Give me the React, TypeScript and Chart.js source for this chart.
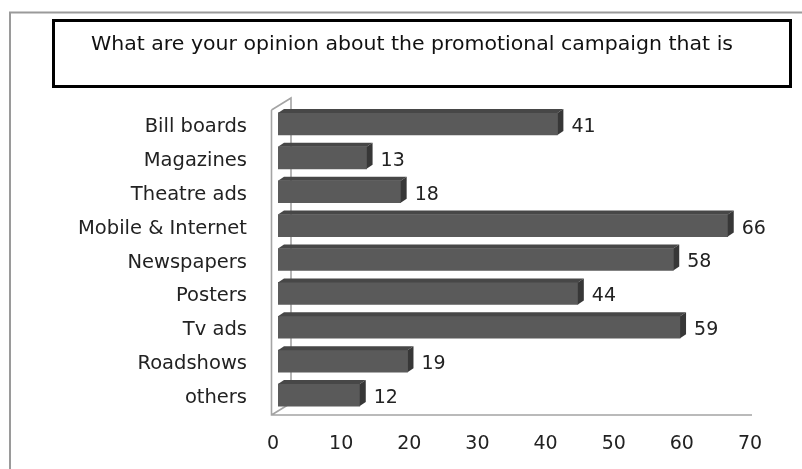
import React, { useEffect, useRef } from "react";
import { Chart, registerables } from "chart.js";

Chart.register(...registerables);

const TITLE = "What are your opinion about the promotional campaign that is";
const categories = [
  "Bill boards",
  "Magazines",
  "Theatre ads",
  "Mobile & Internet",
  "Newspapers",
  "Posters",
  "Tv ads",
  "Roadshows",
  "others",
];
const values = [41, 13, 18, 66, 58, 44, 59, 19, 12];
const xMin = 0;
const xMax = 70;
const xStep = 10;

const FONT = "'DejaVu Sans', Verdana, sans-serif";
const BAR_SHIFT_X = 5;
const BAR_SHIFT_Y = -3;
const FACE_DX = 6;
const FACE_DY = 4;
const DEPTH_DX = 19.5;
const DEPTH_DY = 12;

const framePlugin = {
  id: "framePlugin",
  beforeDraw(chart: any) {
    const ctx = chart.ctx as CanvasRenderingContext2D;
    ctx.save();
    ctx.fillStyle = "#ffffff";
    ctx.fillRect(0, 0, chart.width, chart.height);
    ctx.strokeStyle = "#9a9a9a";
    ctx.lineWidth = 2;
    ctx.beginPath();
    ctx.moveTo(10, chart.height);
    ctx.lineTo(10, 12.5);
    ctx.lineTo(chart.width, 12.5);
    ctx.stroke();
    ctx.strokeStyle = "#000000";
    ctx.lineWidth = 3;
    ctx.strokeRect(53.5, 20.5, 737, 66);
    ctx.font = `19px ${FONT}`;
    ctx.fillStyle = "#111111";
    ctx.textBaseline = "alphabetic";
    const w = ctx.measureText(TITLE).width;
    const target = 642;
    const sx = target / w;
    ctx.translate(91, 50);
    ctx.scale(sx, 1);
    ctx.fillText(TITLE, 0, 0);
    ctx.restore();
  },
  beforeDatasetsDraw(chart: any) {
    const ctx = chart.ctx as CanvasRenderingContext2D;
    const a = chart.chartArea;
    const L = a.left - 1.5;
    ctx.save();
    ctx.strokeStyle = "#a4a4a4";
    ctx.lineWidth = 1.6;
    ctx.beginPath();
    ctx.moveTo(L, a.top);
    ctx.lineTo(L, a.bottom);
    ctx.lineTo(a.right + 2, a.bottom);
    ctx.moveTo(L, a.top);
    ctx.lineTo(L + DEPTH_DX, a.top - DEPTH_DY);
    ctx.lineTo(L + DEPTH_DX, a.bottom - DEPTH_DY);
    ctx.moveTo(L, a.bottom);
    ctx.lineTo(L + DEPTH_DX, a.bottom - DEPTH_DY);
    ctx.stroke();
    ctx.restore();
    ctx.save();
    ctx.translate(BAR_SHIFT_X, BAR_SHIFT_Y);
  },
  afterDatasetsDraw(chart: any) {
    const ctx = chart.ctx as CanvasRenderingContext2D;
    const meta = chart.getDatasetMeta(0);
    meta.data.forEach((bar: any) => {
      const x0 = bar.base;
      const x1 = bar.x;
      const y0 = bar.y - bar.height / 2;
      const y1 = bar.y + bar.height / 2;
      ctx.fillStyle = "#474747";
      ctx.beginPath();
      ctx.moveTo(x0, y0);
      ctx.lineTo(x0 + FACE_DX, y0 - FACE_DY);
      ctx.lineTo(x1 + FACE_DX, y0 - FACE_DY);
      ctx.lineTo(x1, y0);
      ctx.closePath();
      ctx.fill();
      ctx.fillStyle = "#373737";
      ctx.beginPath();
      ctx.moveTo(x1, y0);
      ctx.lineTo(x1 + FACE_DX, y0 - FACE_DY);
      ctx.lineTo(x1 + FACE_DX, y1 - FACE_DY);
      ctx.lineTo(x1, y1);
      ctx.closePath();
      ctx.fill();
    });
    ctx.restore();
    ctx.save();
    ctx.font = `19px ${FONT}`;
    ctx.fillStyle = "#222222";
    ctx.textBaseline = "middle";
    ctx.textAlign = "left";
    meta.data.forEach((bar: any, i: number) => {
      ctx.fillText(String(values[i]), bar.x + BAR_SHIFT_X + FACE_DX + 8, bar.y);
    });
    ctx.restore();
  },
};

export default function App() {
  const ref = useRef<HTMLCanvasElement>(null);
  useEffect(() => {
    if (!ref.current) return;
    const chart = new Chart(ref.current, {
      type: "bar",
      data: {
        labels: categories,
        datasets: [
          {
            data: values,
            backgroundColor: "#5a5a5a",
            borderWidth: 0,
            barThickness: 22,
          },
        ],
      },
      options: {
        indexAxis: "y",
        animation: false,
        responsive: false,
        maintainAspectRatio: false,
        layout: { padding: { left: 0, right: 52, top: 110, bottom: 0 } },
        plugins: {
          legend: { display: false },
          title: { display: false },
          tooltip: { enabled: false },
        },
        scales: {
          x: {
            min: xMin,
            max: xMax,
            grid: { display: false },
            border: { display: false },
            ticks: {
              stepSize: xStep,
              padding: 10,
              color: "#222222",
              font: { family: FONT, size: 19 },
              maxRotation: 0,
            },
            afterFit: (s: any) => {
              s.height = 54;
            },
          },
          y: {
            grid: { display: false },
            border: { display: false },
            ticks: {
              padding: 18,
              color: "#222222",
              font: { family: FONT, size: 19.5 },
            },
            afterFit: (s: any) => {
              s.width = 273;
            },
          },
        },
      },
      plugins: [framePlugin],
    });
    return () => chart.destroy();
  }, []);
  return (
    <div style={{ position: "absolute", left: 0, top: 0, width: 802, height: 469, background: "#fff" }}>
      <canvas ref={ref} width={802} height={469} style={{ display: "block", width: 802, height: 469 }} />
    </div>
  );
}
